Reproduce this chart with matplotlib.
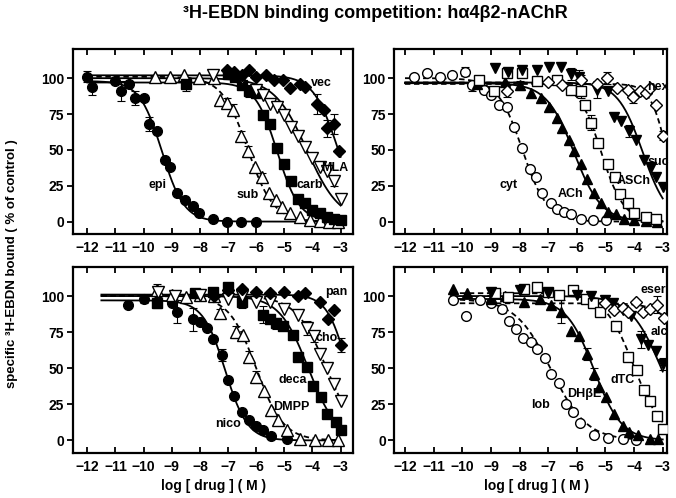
import numpy as np
import matplotlib.pyplot as plt

plt.rcParams['font.family'] = ['Liberation Sans', 'DejaVu Sans']
plt.rcParams['font.weight'] = 'bold'

# ---- top-left panel ----
epi_x = [-12.0, -11.84, -11.02, -10.8, -10.52, -10.3, -10.0, -9.8, -9.53, -9.24, -9.06, -8.8, -8.53, -8.26, -8.02, -7.55, -7.05, -6.54, -6.0]
epi_y = [101, 94, 98, 91, 96, 86, 86, 68, 63, 43, 38, 20, 15, 11, 6, 2, 0, 0, 0]
epi_e = [4, 6, 0, 7, 0, 5, 0, 5, 0, 0, 0, 0, 0, 0, 0, 0, 0, 0, 0]
sub_x = [-9.6, -9.07, -8.56, -8.02, -7.5, -7.29, -7.05, -6.84, -6.55, -6.3, -6.05, -5.8, -5.55, -5.3, -5.1, -4.8, -4.45, -4.1, -3.75, -3.4, -3.1]
sub_y = [101, 101, 102, 100, 100, 85, 83, 78, 60, 49, 38, 31, 20, 15, 10, 6, 3.5, 1, 0.5, 0, 0]
sub_e = [0, 0, 0, 0, 0, 0, 3, 4, 3, 4, 0, 3, 0, 0, 0, 0, 0, 0, 0, 0, 0]
carb_x = [-8.5, -7.0, -6.75, -6.5, -6.25, -6.0, -5.75, -5.5, -5.25, -5.0, -4.75, -4.5, -4.25, -4.0, -3.75, -3.5, -3.25, -3.0]
carb_y = [96, 103, 101, 95, 91, 90, 74, 68, 51, 40, 28, 16, 13, 8, 6, 3.5, 2, 1]
carb_e = [5, 0, 0, 0, 4, 3, 0, 0, 0, 0, 0, 0, 0, 0, 0, 0, 0, 0]
mla_x = [-7.55, -6.5, -6.0, -5.75, -5.5, -5.25, -5.0, -4.75, -4.5, -4.25, -4.0, -3.75, -3.5, -3.25, -3.0]
mla_y = [102, 100, 92, 88, 82, 80, 74, 66, 60, 52, 44, 38, 35, 28, 16]
mla_e = [0, 0, 3, 0, 0, 0, 0, 0, 0, 0, 0, 0, 0, 3, 0]
vec_x = [-7.05, -6.8, -6.5, -6.25, -6.0, -5.65, -5.35, -5.05, -4.8, -4.45, -4.25, -3.85, -3.6, -3.5, -3.25, -3.05]
vec_y = [106, 104, 102, 106, 101, 102, 99, 99, 93, 96, 94, 82, 78, 65, 68, 49]
vec_e = [0, 0, 0, 0, 0, 0, 0, 0, 0, 0, 0, 7, 0, 6, 7, 0]

# ---- top-right panel ----
cyt_x = [-11.7, -11.24, -10.77, -10.36, -9.9, -9.66, -9.25, -9.0, -8.73, -8.43, -8.2, -7.9, -7.64, -7.44, -7.2, -6.91, -6.68, -6.44, -6.2, -5.86, -5.45, -4.98]
cyt_y = [101, 103.5, 101, 102, 104.5, 95, 92, 88, 81, 80, 66, 51, 37, 31, 20, 13, 9, 7, 5, 2, 1, 1]
cyt_e = [0, 0, 0, 0, 3, 4, 0, 0, 0, 0, 0, 0, 0, 0, 0, 0, 0, 0, 0, 0, 0, 0]
ach_x = [-9.5, -8.5, -8.0, -7.61, -7.26, -6.97, -6.68, -6.5, -6.27, -6.09, -5.86, -5.63, -5.39, -5.16, -4.92, -4.63, -4.34, -4.0, -3.6, -3.2]
ach_y = [96, 97, 95, 89.5, 86, 80, 72, 65, 57, 49, 40, 30, 20, 13, 7, 5, 2, 1, 0.5, 0]
ach_e = [3, 0, 3, 0, 0, 0, 0, 0, 0, 0, 0, 0, 0, 0, 0, 0, 0, 0, 0, 0]
asch_x = [-9.43, -8.9, -8.43, -7.9, -7.38, -6.68, -6.2, -5.86, -5.72, -5.5, -5.25, -4.92, -4.67, -4.5, -4.22, -4.01, -3.58, -3.23]
asch_y = [99, 91, 103.5, 103.5, 97.7, 99, 92, 91, 81, 69, 55, 40, 31, 19, 13, 6, 3, 2]
asch_e = [0, 0, 0, 3, 0, 0, 0, 5, 0, 5, 0, 0, 0, 0, 0, 0, 0, 0]
suc_x = [-8.84, -8.4, -7.9, -7.4, -6.97, -6.56, -6.2, -5.92, -5.3, -4.9, -4.69, -4.45, -4.16, -3.93, -3.64, -3.4, -3.23, -3.0]
suc_y = [107, 104, 106, 106, 108, 108, 103, 101, 92, 91, 73, 70, 63, 57, 43, 38, 31, 24]
suc_e = [0, 0, 0, 0, 0, 0, 4, 5, 6, 0, 0, 0, 4, 0, 0, 0, 0, 0]
hex_x = [-8.43, -7.0, -6.5, -5.86, -5.3, -4.95, -4.6, -4.22, -4.05, -3.8, -3.6, -3.46, -3.23, -3.0]
hex_y = [91, 97, 95, 99, 96, 100, 93, 92, 87, 91, 90, 93, 81, 60]
hex_e = [4, 0, 0, 3, 0, 4, 0, 0, 4, 0, 0, 0, 0, 3]

# ---- bottom-left panel ----
nico_x = [-10.54, -9.99, -9.0, -8.8, -8.24, -8.0, -7.76, -7.53, -7.23, -6.99, -6.79, -6.52, -6.25, -5.99, -5.75, -5.46, -4.92]
nico_y = [94, 98, 95, 89, 84, 82, 78, 70, 59, 42, 30.5, 20, 14, 10, 7, 3, 1]
nico_e = [0, 3, 0, 8, 8, 0, 0, 0, 4, 0, 0, 0, 0, 0, 0, 0, 0]
dmpp_x = [-9.54, -9.0, -8.5, -8.0, -7.5, -7.29, -6.7, -6.48, -6.25, -5.99, -5.73, -5.49, -5.22, -4.92, -4.45, -3.92, -3.44, -3.09]
dmpp_y = [104, 101, 99, 101, 100, 88, 75, 73, 58, 44, 34, 21, 14, 7.4, 1.2, 0, 0, 0.5]
dmpp_e = [4, 0, 0, 4, 0, 3, 4, 0, 4, 4, 0, 0, 0, 0, 0, 0, 0, 0]
deca_x = [-9.54, -8.18, -7.53, -7.0, -6.52, -5.75, -5.5, -5.28, -5.04, -4.69, -4.51, -4.21, -3.98, -3.68, -3.5, -3.15, -3.0]
deca_y = [95, 102, 103, 106, 96, 87, 84, 81, 79, 73, 58, 51, 38, 30, 18.5, 13, 7]
deca_e = [3, 0, 0, 0, 4, 6, 0, 4, 0, 0, 0, 0, 0, 0, 0, 0, 0]
cho_x = [-9.5, -8.9, -8.0, -7.0, -6.5, -6.0, -5.5, -5.0, -4.5, -4.2, -3.95, -3.75, -3.5, -3.25, -3.0]
cho_y = [103, 100, 101, 98, 100, 96, 96, 91, 87, 78, 72, 60, 50, 39, 27]
cho_e = [4, 0, 3, 0, 0, 0, 0, 0, 0, 5, 4, 0, 0, 0, 0]
pan_x = [-7.5, -7.0, -6.5, -6.0, -5.5, -5.0, -4.5, -4.25, -3.75, -3.45, -3.25, -3.0]
pan_y = [100, 104, 105, 103, 102, 103, 100, 102, 96, 84, 90, 66]
pan_e = [0, 0, 0, 0, 0, 0, 0, 0, 0, 0, 0, 5]

# ---- bottom-right panel ----
lob_x = [-10.33, -9.86, -9.37, -9.0, -8.6, -8.37, -8.14, -7.87, -7.61, -7.38, -7.12, -6.89, -6.62, -6.39, -6.15, -5.88, -5.39, -4.92, -4.4, -3.93]
lob_y = [97, 86, 97, 95, 91, 83, 77, 71, 68, 63, 57, 46, 40, 25, 20, 12, 3.5, 2, 0.7, 0]
lob_e = [0, 0, 0, 0, 3, 0, 0, 0, 0, 0, 0, 0, 0, 0, 0, 0, 0, 0, 0, 0]
dhbe_x = [-10.33, -9.84, -9.0, -8.5, -7.85, -7.3, -6.91, -6.56, -6.19, -5.92, -5.63, -5.39, -5.22, -4.98, -4.69, -4.4, -4.16, -3.87, -3.46, -3.17]
dhbe_y = [105, 102, 98, 100, 96, 98, 94, 89, 76, 72, 60, 46, 37, 30, 18.5, 10, 6, 3.5, 1, 1]
dhbe_e = [0, 0, 3, 0, 0, 0, 0, 8, 0, 0, 4, 4, 0, 0, 0, 0, 0, 0, 0, 0]
dtc_x = [-8.84, -8.4, -7.85, -7.38, -7.0, -6.62, -6.15, -5.68, -5.45, -5.2, -4.63, -4.2, -3.9, -3.64, -3.46, -3.2, -3.0]
dtc_y = [102, 99, 105, 106, 103, 101, 104, 98, 95, 89, 79, 58, 49, 35, 27, 17, 8]
dtc_e = [0, 3, 0, 0, 0, 0, 0, 0, 0, 0, 0, 0, 0, 0, 0, 0, 0]
alc_x = [-9.0, -8.0, -7.0, -6.0, -5.5, -5.0, -4.75, -4.4, -4.1, -3.75, -3.5, -3.25, -3.0]
alc_y = [103, 104, 102, 101, 100, 97, 95, 90, 86, 70, 66, 62, 53]
alc_e = [0, 0, 0, 0, 0, 0, 0, 0, 0, 6, 0, 0, 4]
eser_x = [-5.0, -4.69, -4.4, -4.22, -3.93, -3.7, -3.46, -3.2, -2.97]
eser_y = [95, 90, 92, 89, 96, 89, 91, 94, 85]
eser_e = [0, 0, 0, 0, 0, 0, 0, 6, 0]

# fitted curves: top, bottom, logIC50, Hill slope
epi_fit = [98, 0, -9.35, 1.1]
sub_fit = [101, 0, -6.3, 0.95]
carb_fit = [97, 0, -5.25, 1.1]
mla_fit = [100, 0, -4.2, 0.75]
vec_fit = [102, 0, -3.1, 1.0]
cyt_fit = [100, 0, -7.9, 1.0]
ach_fit = [96.5, 0, -6.1, 0.9]
asch_fit = [97, 0, -5.15, 1.1]
suc_fit = [97, 0, -3.7, 1.0]
hex_fit = [96, 0, -2.85, 1.5]
nico_fit = [97, 0, -7.1, 1.1]
dmpp_fit = [100, 0, -6.0, 0.9]
deca_fit = [100, 0, -4.15, 0.85]
cho_fit = [100, 0, -3.5, 0.8]
pan_fit = [101, 0, -2.75, 1.2]
lob_fit = [98, 0, -6.9, 0.7]
dhbe_fit = [98, 0, -5.4, 0.9]
dtc_fit = [102, 0, -4.0, 0.85]
alc_fit = [100, 0, -3.05, 0.8]
eser_fit = [95, 0, -2.0, 1.0]


def hill(x, p):
    top, bot, lic, nh = p
    return bot + (top - bot) / (1 + 10 ** (nh * (x - lic)))


def series(ax, x, y, e, fit, marker, filled, ls, ms, x0):
    xx = np.linspace(x0, -3, 300)
    ax.plot(xx, hill(xx, fit), color='black', lw=1.3, ls=ls, zorder=2,
            dashes=(3, 2) if ls == '--' else (None, None))
    e = np.array(e, float)
    m = e > 0
    ax.errorbar(np.array(x)[m], np.array(y)[m], yerr=e[m], fmt='none',
                ecolor='black', elinewidth=0.8, capsize=3, capthick=0.8, zorder=3)
    ax.plot(x, y, ls='none', marker=marker, ms=ms,
            mfc='black' if filled else 'white', mec='black', mew=1.0, zorder=4)


fig = plt.figure(figsize=(6.76, 4.98), dpi=100)
ax_tl = fig.add_axes([0.1075, 0.530, 0.4147, 0.3715])
ax_tr = fig.add_axes([0.583, 0.530, 0.4037, 0.3715])
ax_bl = fig.add_axes([0.1075, 0.0904, 0.4147, 0.374])
ax_br = fig.add_axes([0.583, 0.0904, 0.4037, 0.374])

series(ax_tl, epi_x, epi_y, epi_e, epi_fit, 'o', True, '-', 7, -12)
series(ax_tl, sub_x, sub_y, sub_e, sub_fit, '^', False, '--', 8, -12)
series(ax_tl, carb_x, carb_y, carb_e, carb_fit, 's', True, '-', 6.5, -12)
series(ax_tl, mla_x, mla_y, mla_e, mla_fit, 'v', False, '-', 8, -12)
series(ax_tl, vec_x, vec_y, vec_e, vec_fit, 'D', True, '-', 6, -12)

series(ax_tr, cyt_x, cyt_y, cyt_e, cyt_fit, 'o', False, '--', 7, -12)
series(ax_tr, ach_x, ach_y, ach_e, ach_fit, '^', True, '-', 7.5, -12)
series(ax_tr, asch_x, asch_y, asch_e, asch_fit, 's', False, '--', 7, -12)
series(ax_tr, suc_x, suc_y, suc_e, suc_fit, 'v', True, '-', 7.5, -12)
series(ax_tr, hex_x, hex_y, hex_e, hex_fit, 'D', False, '--', 6, -12)

series(ax_bl, nico_x, nico_y, nico_e, nico_fit, 'o', True, '-', 7, -11.5)
series(ax_bl, dmpp_x, dmpp_y, dmpp_e, dmpp_fit, '^', False, '--', 8, -11.5)
series(ax_bl, deca_x, deca_y, deca_e, deca_fit, 's', True, '-', 6.5, -11.5)
series(ax_bl, cho_x, cho_y, cho_e, cho_fit, 'v', False, '--', 8, -11.5)
series(ax_bl, pan_x, pan_y, pan_e, pan_fit, 'D', True, '-', 6, -11.5)

series(ax_br, lob_x, lob_y, lob_e, lob_fit, 'o', False, '--', 7, -10.4)
series(ax_br, dhbe_x, dhbe_y, dhbe_e, dhbe_fit, '^', True, '-', 7.5, -10.4)
series(ax_br, dtc_x, dtc_y, dtc_e, dtc_fit, 's', False, '--', 7, -10.4)
series(ax_br, alc_x, alc_y, alc_e, alc_fit, 'v', True, '-', 7.5, -10.4)
series(ax_br, eser_x, eser_y, eser_e, eser_fit, 'D', False, '--', 6, -10.4)

labels = {
    ax_tl: [('epi', -9.49, 25.6), ('sub', -6.29, 18.6), ('carb', -4.09, 25.6), ('MLA', -3.2, 37.4), ('vec', -3.67, 96.5)],
    ax_tr: [('cyt', -8.37, 25.6), ('ACh', -6.21, 19), ('ASCh', -4.0, 28), ('suc', -3.16, 41.8), ('hex', -3.16, 94)],
    ax_bl: [('nico', -6.99, 11.6), ('DMPP', -4.74, 23), ('deca', -4.69, 41.7), ('cho', -3.5, 70.6), ('pan', -3.14, 102.6)],
    ax_br: [('lob', -7.26, 24.3), ('DH\u03b2E', -5.74, 32.4), ('dTC', -4.4, 41.7), ('alc', -3.11, 75), ('eser', -3.34, 104)],
}

for ax in [ax_tl, ax_tr, ax_bl, ax_br]:
    if ax in (ax_tl, ax_bl):
        ax.set_xlim(-12.52, -2.56)
    else:
        ax.set_xlim(-12.38, -2.85)
    ax.set_ylim(-8.7, 120.3)
    ax.set_xticks(range(-12, -2))
    ax.set_yticks([0, 25, 50, 75, 100])
    ax.tick_params(axis='x', direction='in', top=True, length=4, width=1.3, labelsize=10, pad=5)
    ax.tick_params(axis='y', direction='out', length=4, width=1.3, labelsize=10, pad=2)
    for s in ax.spines.values():
        s.set_linewidth(1.6)
    for t, lx, ly in labels[ax]:
        ax.text(lx, ly, t, ha='center', va='center', fontsize=9, fontweight='bold', zorder=5)

fig.text(0.556, 0.972, '\u00b3H-EBDN binding competition: h\u03b14\u03b22-nAChR',
         ha='center', va='center', fontsize=13, fontweight='bold')
fig.text(0.018, 0.47, 'specific \u00b3H-EBDN bound ( % of control )', rotation=90,
         ha='center', va='center', fontsize=9.5, fontweight='bold')
fig.text(0.316, 0.024, 'log [ drug ] ( M )', ha='center', va='center', fontsize=10, fontweight='bold')
fig.text(0.793, 0.024, 'log [ drug ] ( M )', ha='center', va='center', fontsize=10, fontweight='bold')

fig.savefig('out.png', dpi=100)
